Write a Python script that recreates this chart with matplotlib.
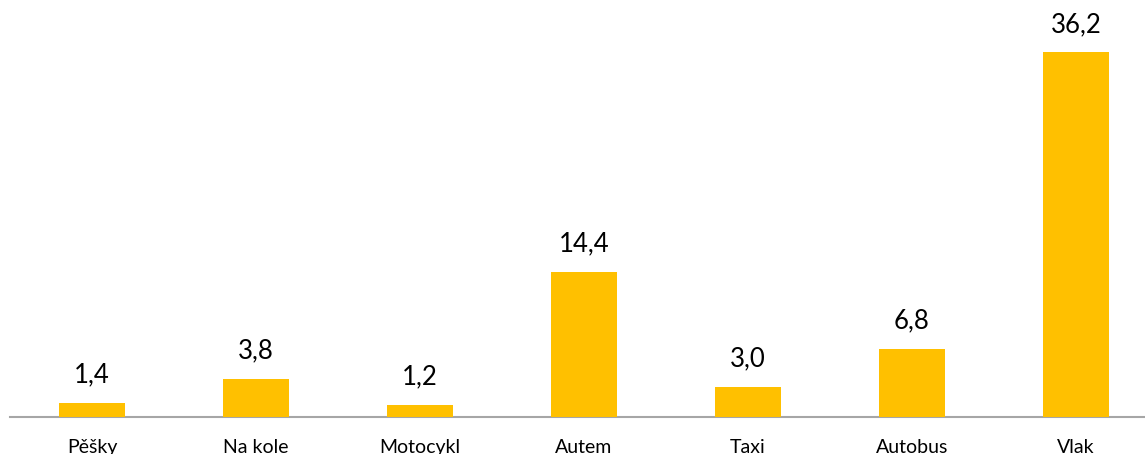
import matplotlib
matplotlib.use('Agg')
import matplotlib.pyplot as plt

categories = ['Pěšky', 'Na kole', 'Motocykl', 'Autem', 'Taxi', 'Autobus', 'Vlak']
values = [1.4, 3.8, 1.2, 14.4, 3.0, 6.8, 36.2]
labels = ['1,4', '3,8', '1,2', '14,4', '3,0', '6,8', '36,2']

plt.rcParams['font.family'] = ['Lato', 'DejaVu Sans']

fig = plt.figure(figsize=(11.45, 4.54), dpi=100)
ax = fig.add_axes([10/1145, 37/454, 1148/1145, 417/454])

x = range(len(categories))
bars = ax.bar(x, values, width=0.4, color='#FFC000', zorder=3)

for b, lab in zip(bars, labels):
    ax.annotate(lab, (b.get_x() + b.get_width()/2, b.get_height()),
                xytext=(0, 11), textcoords='offset points',
                ha='center', va='bottom', fontsize=18.5, color='#000000')

ax.set_xlim(-0.5, len(categories) - 0.5)
ax.set_ylim(0, 41.4)
ax.set_xticks(list(x))
ax.set_xticklabels(categories, fontsize=14)
ax.tick_params(axis='x', length=0, pad=16)
ax.set_yticks([])
for s in ['top', 'right', 'left']:
    ax.spines[s].set_visible(False)
ax.spines['bottom'].set_color('#A6A6A6')
ax.spines['bottom'].set_linewidth(1.5)

fig.savefig('out.png', dpi=100)
